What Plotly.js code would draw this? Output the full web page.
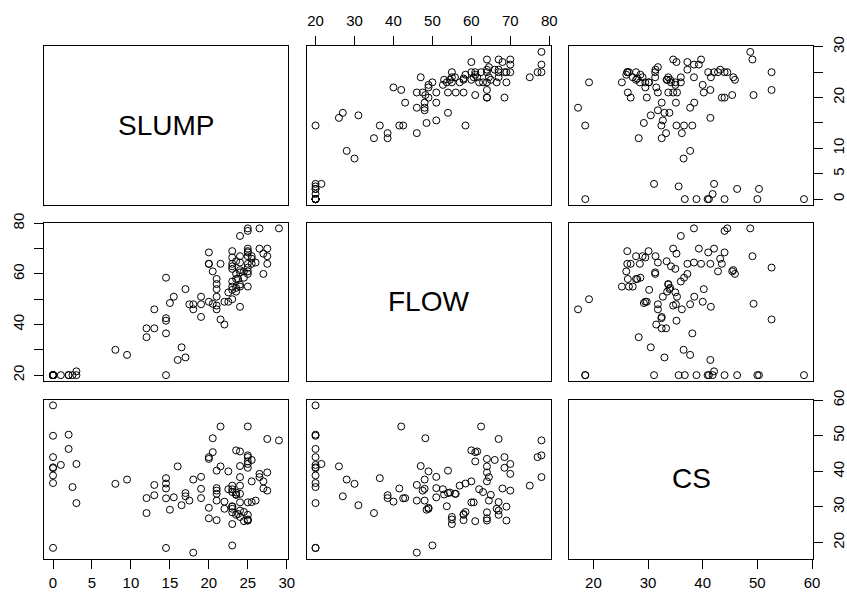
<!DOCTYPE html>
<html>
<head>
<meta charset="utf-8">
<script src="https://cdn.plot.ly/plotly-3.0.1.min.js"></script>
<style>html,body{margin:0;padding:0;background:#fff;}#chart{width:847px;height:593px;}</style>
</head>
<body>
<div id="chart"></div>
<script>
// Concrete slump test: SLUMP (cm), FLOW (cm), 28-day compressive strength CS (MPa)
const varNames = ['SLUMP', 'FLOW', 'CS'];

const slump = [0, 0, 0, 0, 0, 0, 0, 0, 1, 2, 2, 2.5, 3, 3,
  8, 9.5, 12, 12, 13, 13, 14.5, 14.5, 14.5, 14.5, 14.5, 15, 15.5, 16.5, 16, 17,
  17, 17.5, 18, 18, 19, 19, 19, 20, 20.5, 20, 20, 20.5, 20, 21, 21.5,
  21, 21, 21, 21, 21, 21.5,
  22, 22, 22.5, 23, 23, 23, 24.5, 23.75, 25.5, 23.5, 25, 25, 23, 29, 27.5, 25, 23.5, 24,
  25, 25, 25, 25.5, 24, 24, 26.5, 25.5, 26.5, 27.5, 27,
  27, 27.5, 24, 23, 23.5, 23.5, 22.5, 24, 24, 25, 26, 23, 23, 23, 23, 23.5, 24.5, 24,
  25, 25, 25, 24, 25];

const flow = [20, 20, 20, 20, 20, 20, 20, 20, 20, 20, 20, 20, 21.5, 20,
  30, 28, 35, 38.5, 38.5, 46, 58.5, 42.5, 41.5, 36.5, 20, 48.5, 51, 31, 26, 27,
  54, 48, 46, 48, 51, 48, 43, 64, 48.2, 49, 68.5, 61, 64, 54, 42,
  51, 56, 47.5, 46, 58, 64,
  40, 49, 49, 50, 62, 55, 61, 58, 67, 54.5, 68.5, 70, 57, 78, 67, 62.5, 60, 61.5,
  78, 77, 61, 66, 47, 64.5, 78, 64, 70, 64, 60,
  68, 70, 75, 63, 65, 53, 52.7, 55.8, 60.6, 60, 64.5, 69, 66.5, 53.7, 64, 58, 58.5, 55,
  64, 69, 67, 67, 55];

const cs = [58.53, 50.0, 44.0, 41.14, 40.9, 38.86, 36.72, 18.52, 41.81, 50.3, 46.3, 35.6, 42.08, 31.1,
  36.5, 37.7, 28.29, 32.5, 33.3, 36.19, 36.59, 32.44, 35.2, 38.1, 18.5, 29.23, 32.71, 30.5, 41.4, 33.0,
  33.91, 31.8, 17.19, 37.7, 38.46, 35.1, 32.5, 26.82, 49.3, 29.77, 44.0, 45.4, 43.5, 40.2, 52.6,
  35.3, 33.7, 34.6, 31.8, 26.3, 41.4,
  31.5, 29.5, 40.0, 19.2, 34.99, 25.21, 26.02, 28.03, 31.37, 34.05, 41.01, 42.08, 36.0, 48.7, 49.1, 52.6, 45.9, 45.6,
  44.5, 44.0, 42.8, 43.2, 41.5, 38.4, 38.4, 37.2, 39.3, 39.7, 37.2,
  35.2, 34.6, 36.0, 34.2, 33.4, 33.5, 35.0, 33.7, 31.3, 31.3, 31.8, 30.1, 29.5, 30.2, 28.5, 27.8, 28.6, 27.2,
  26.2, 26.2, 27.8, 29.0, 26.5];

const slumpTicks = [0, 5, 10, 15, 20, 25, 30];
const slumpTickTextRight = ['0', '5', '10', '', '20', '', '30'];
const flowTicks = [20, 30, 40, 50, 60, 70, 80];
const flowTickTextLeft = ['20', '', '40', '', '60', '', '80'];
const csTicks = [20, 30, 40, 50, 60];

const vars = [slump, flow, cs];

function padRange(a) {
  const mn = Math.min(...a), mx = Math.max(...a);
  const p = 0.04 * (mx - mn);
  return [mn - p, mx + p];
}
const ranges = vars.map(padRange);

const W = 847, H = 593;
const colPx = [[44, 288], [306.5, 550.5], [569, 813]];
const rowPx = [[46, 205], [222.5, 381], [399.5, 558.5]];
const xDom = colPx.map(p => [p[0] / W, p[1] / W]);
const yDom = rowPx.map(p => [1 - p[1] / H, 1 - p[0] / H]);

const FONT = 'Liberation Sans, Arial, sans-serif';
const tickFont = {family: FONT, size: 15, color: '#000'};

const traces = [];
const layout = {
  width: W, height: H,
  margin: {l: 0, r: 0, t: 0, b: 0},
  paper_bgcolor: '#fff', plot_bgcolor: '#fff',
  showlegend: false,
  annotations: []
};

function baseAxis(domain, range, anchor) {
  return {
    domain: domain, range: range, anchor: anchor,
    showline: true, mirror: true, linecolor: '#000', linewidth: 1,
    showgrid: false, zeroline: false, fixedrange: true,
    ticks: '', showticklabels: false
  };
}
function tickAxis(ax, side, vals, text, angle, standoff) {
  Object.assign(ax, {
    side: side, ticks: 'outside', ticklen: 9, tickwidth: 1, tickcolor: '#000',
    showticklabels: true, tickmode: 'array', tickvals: vals, ticktext: text,
    tickfont: tickFont, tickangle: angle, ticklabelstandoff: standoff
  });
}

for (let r = 0; r < 3; r++) {
  for (let c = 0; c < 3; c++) {
    const k = r * 3 + c + 1;
    const s = k === 1 ? '' : String(k);
    const xa = baseAxis(xDom[c], ranges[c], 'y' + s);
    const ya = baseAxis(yDom[r], ranges[r], 'x' + s);
    layout['xaxis' + s] = xa;
    layout['yaxis' + s] = ya;
    if (r === c) {
      traces.push({x: [], y: [], type: 'scatter', mode: 'markers', xaxis: 'x' + s, yaxis: 'y' + s, hoverinfo: 'skip'});
      layout.annotations.push({
        xref: 'x' + s + ' domain', yref: 'y' + s + ' domain', x: 0.5, y: 0.5,
        text: varNames[r], showarrow: false, font: {family: FONT, size: 28, color: '#000'},
        xanchor: 'center', yanchor: 'middle'
      });
    } else {
      traces.push({
        x: vars[c], y: vars[r], type: 'scatter', mode: 'markers',
        xaxis: 'x' + s, yaxis: 'y' + s,
        marker: {symbol: 'circle-open', size: 7, color: '#000', line: {width: 1, color: '#000'}},
        hoverinfo: 'x+y'
      });
    }
  }
}

// outer axes as in R pairs()
tickAxis(layout['xaxis7'], 'bottom', slumpTicks, slumpTicks.map(String), 0, 1);
tickAxis(layout['xaxis9'], 'bottom', csTicks, csTicks.map(String), 0, 1);
tickAxis(layout['xaxis2'], 'top', flowTicks, flowTicks.map(String), 0, 4);
tickAxis(layout['yaxis4'], 'left', flowTicks, flowTickTextLeft, -90, 4);
tickAxis(layout['yaxis3'], 'right', slumpTicks, slumpTickTextRight, -90, 3);
tickAxis(layout['yaxis9'], 'right', csTicks, csTicks.map(String), -90, 3);

Plotly.newPlot('chart', traces, layout, {displayModeBar: false, staticPlot: true});
</script>
</body>
</html>
